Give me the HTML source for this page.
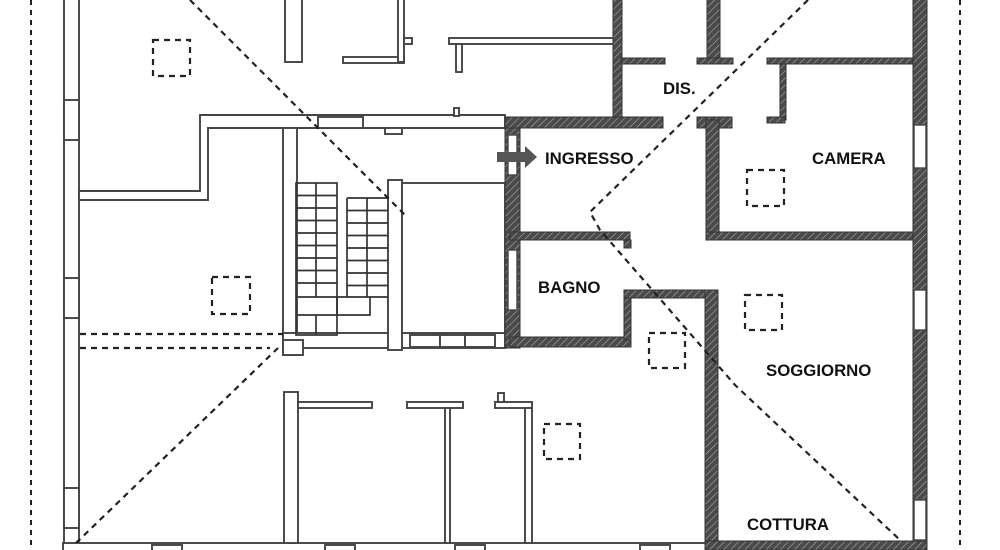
<!DOCTYPE html>
<html><head><meta charset="utf-8"><style>
html,body{margin:0;padding:0;background:#fff;width:1000px;height:550px;overflow:hidden}
svg{display:block}
text{font-family:"Liberation Sans",Arial,sans-serif;font-weight:bold;font-size:16.8px;fill:#111}
</style></head><body>
<svg width="1000" height="550" viewBox="0 0 1000 550" xmlns="http://www.w3.org/2000/svg">
<defs>
<pattern id="h" width="5" height="5" patternUnits="userSpaceOnUse" patternTransform="rotate(45)">
<rect width="5" height="5" fill="#4a4a4a"/><line x1="0" y1="0" x2="0" y2="5" stroke="#aaa" stroke-width="1.2"/>
</pattern>
</defs>
<!-- dotted borders -->
<g stroke="#222" stroke-width="2" stroke-dasharray="5,5" fill="none">
<line x1="31" y1="0" x2="31" y2="550"/>
<line x1="960" y1="0" x2="960" y2="550"/>
</g>
<!-- outlined walls -->
<g fill="#fff" stroke="#444" stroke-width="1.9">
<rect x="64" y="-2" width="15" height="555"/>
<rect x="64" y="100" width="15" height="40"/>
<rect x="64" y="278" width="15" height="40"/>
<rect x="64" y="488" width="15" height="40"/>
<rect x="63" y="543" width="645" height="10"/>
<rect x="285" y="-2" width="17" height="64"/>
<rect x="343" y="57" width="61" height="6"/>
<rect x="398" y="-2" width="6" height="64"/>
<rect x="404" y="38" width="8" height="6"/>
<rect x="449" y="38" width="166" height="6"/>
<rect x="456" y="44" width="6" height="28"/>
<path d="M79 191 L200 191 L200 115 L505 115 L505 128 L208 128 L208 200 L79 200 Z"/>
<rect x="318" y="117" width="45" height="11"/>
<rect x="385" y="128" width="17" height="6"/>
<rect x="454" y="108" width="5" height="8"/>
<rect x="283" y="128" width="14" height="227"/>
<rect x="283" y="333" width="222" height="15"/>
<rect x="283" y="340" width="20" height="15"/>
<rect x="388" y="180" width="14" height="170"/>
<rect x="402" y="183" width="103" height="150"/>
<rect x="410" y="335" width="30" height="12"/>
<rect x="440" y="335" width="25" height="12"/>
<rect x="465" y="335" width="30" height="12"/>
<rect x="284" y="392" width="14" height="151"/>
<rect x="298" y="402" width="74" height="6"/>
<rect x="407" y="402" width="56" height="6"/>
<rect x="445" y="408" width="5" height="135"/>
<rect x="495" y="402" width="37" height="6"/>
<rect x="525" y="408" width="7" height="135"/>
<rect x="498" y="393" width="6" height="9"/>
<rect x="152" y="545" width="30" height="8"/>
<rect x="325" y="545" width="30" height="8"/>
<rect x="455" y="545" width="30" height="8"/>
<rect x="640" y="545" width="30" height="8"/>
</g>
<!-- stairs -->
<g fill="none" stroke="#333" stroke-width="1.7">
<rect x="296" y="183" width="41" height="152"/>
<line x1="316" y1="183" x2="316" y2="297"/>
<line x1="316" y1="315" x2="316" y2="335"/>
<path d="M347 198 H388 M347 198 V297 M367 198 V297 M337 297 V315 H370 V297"/>
<path d="M296 195.5H337M296 208H337M296 220.5H337M296 233H337M296 245.5H337M296 258H337M296 270.5H337M296 283H337M296 297H388M296 315H337"/>
<path d="M347 210.5H388M347 223H388M347 235.5H388M347 248H388M347 260.5H388M347 273H388M347 285.5H388"/>
</g>
<!-- hatched walls -->
<g fill="url(#h)" stroke="#333" stroke-width="1">
<rect x="613" y="-2" width="9" height="128"/>
<rect x="621" y="58" width="44" height="6"/>
<rect x="707" y="-2" width="13" height="60"/>
<rect x="697" y="58" width="36" height="6"/>
<rect x="767" y="58" width="146" height="6"/>
<rect x="780" y="64" width="6" height="56"/>
<rect x="505" y="117" width="158" height="11"/>
<rect x="697" y="117" width="35" height="11"/>
<rect x="767" y="117" width="18" height="6"/>
<rect x="706" y="120" width="13" height="120"/>
<rect x="706" y="232" width="207" height="8"/>
<rect x="913" y="-2" width="14" height="555"/>
<rect x="505" y="128" width="15" height="220"/>
<rect x="510" y="232" width="120" height="8"/>
<rect x="624" y="240" width="7" height="8"/>
<rect x="510" y="337" width="121" height="10"/>
<rect x="624" y="290" width="7" height="50"/>
<rect x="624" y="290" width="94" height="8"/>
<rect x="705" y="290" width="13" height="258"/>
<rect x="705" y="541" width="222" height="9"/>
</g>
<g fill="#fff" stroke="#444" stroke-width="1.4">
<rect x="914" y="125" width="12" height="43"/>
<rect x="914" y="290" width="12" height="40"/>
<rect x="914" y="500" width="12" height="40"/>
<rect x="508" y="135" width="9" height="40"/>
<rect x="508" y="250" width="9" height="60"/>
</g>
<path d="M497 152 H525 V146 L537 157 L525 168 V162 H497 Z" fill="#555"/>
<g stroke="#222" stroke-width="2.2" stroke-dasharray="6,5" fill="none">
<polyline points="190,0 320,130 405,215"/>
<polyline points="808,0 590,212 600,230 735,385 900,540"/>
<line x1="76" y1="543" x2="278" y2="348"/>
<line x1="80" y1="334" x2="283" y2="334"/>
<line x1="80" y1="348" x2="270" y2="348"/>
<rect x="153" y="40" width="37" height="36"/>
<rect x="212" y="277" width="38" height="37"/>
<rect x="747" y="170" width="37" height="36"/>
<rect x="745" y="295" width="37" height="35"/>
<rect x="649" y="333" width="36" height="35"/>
<rect x="544" y="424" width="36" height="35"/>
</g>
<text x="663" y="94">DIS.</text>
<text x="545" y="164">INGRESSO</text>
<text x="812" y="164">CAMERA</text>
<text x="538" y="293">BAGNO</text>
<text x="766" y="376">SOGGIORNO</text>
<text x="747" y="530">COTTURA</text>
</svg>
</body></html>
